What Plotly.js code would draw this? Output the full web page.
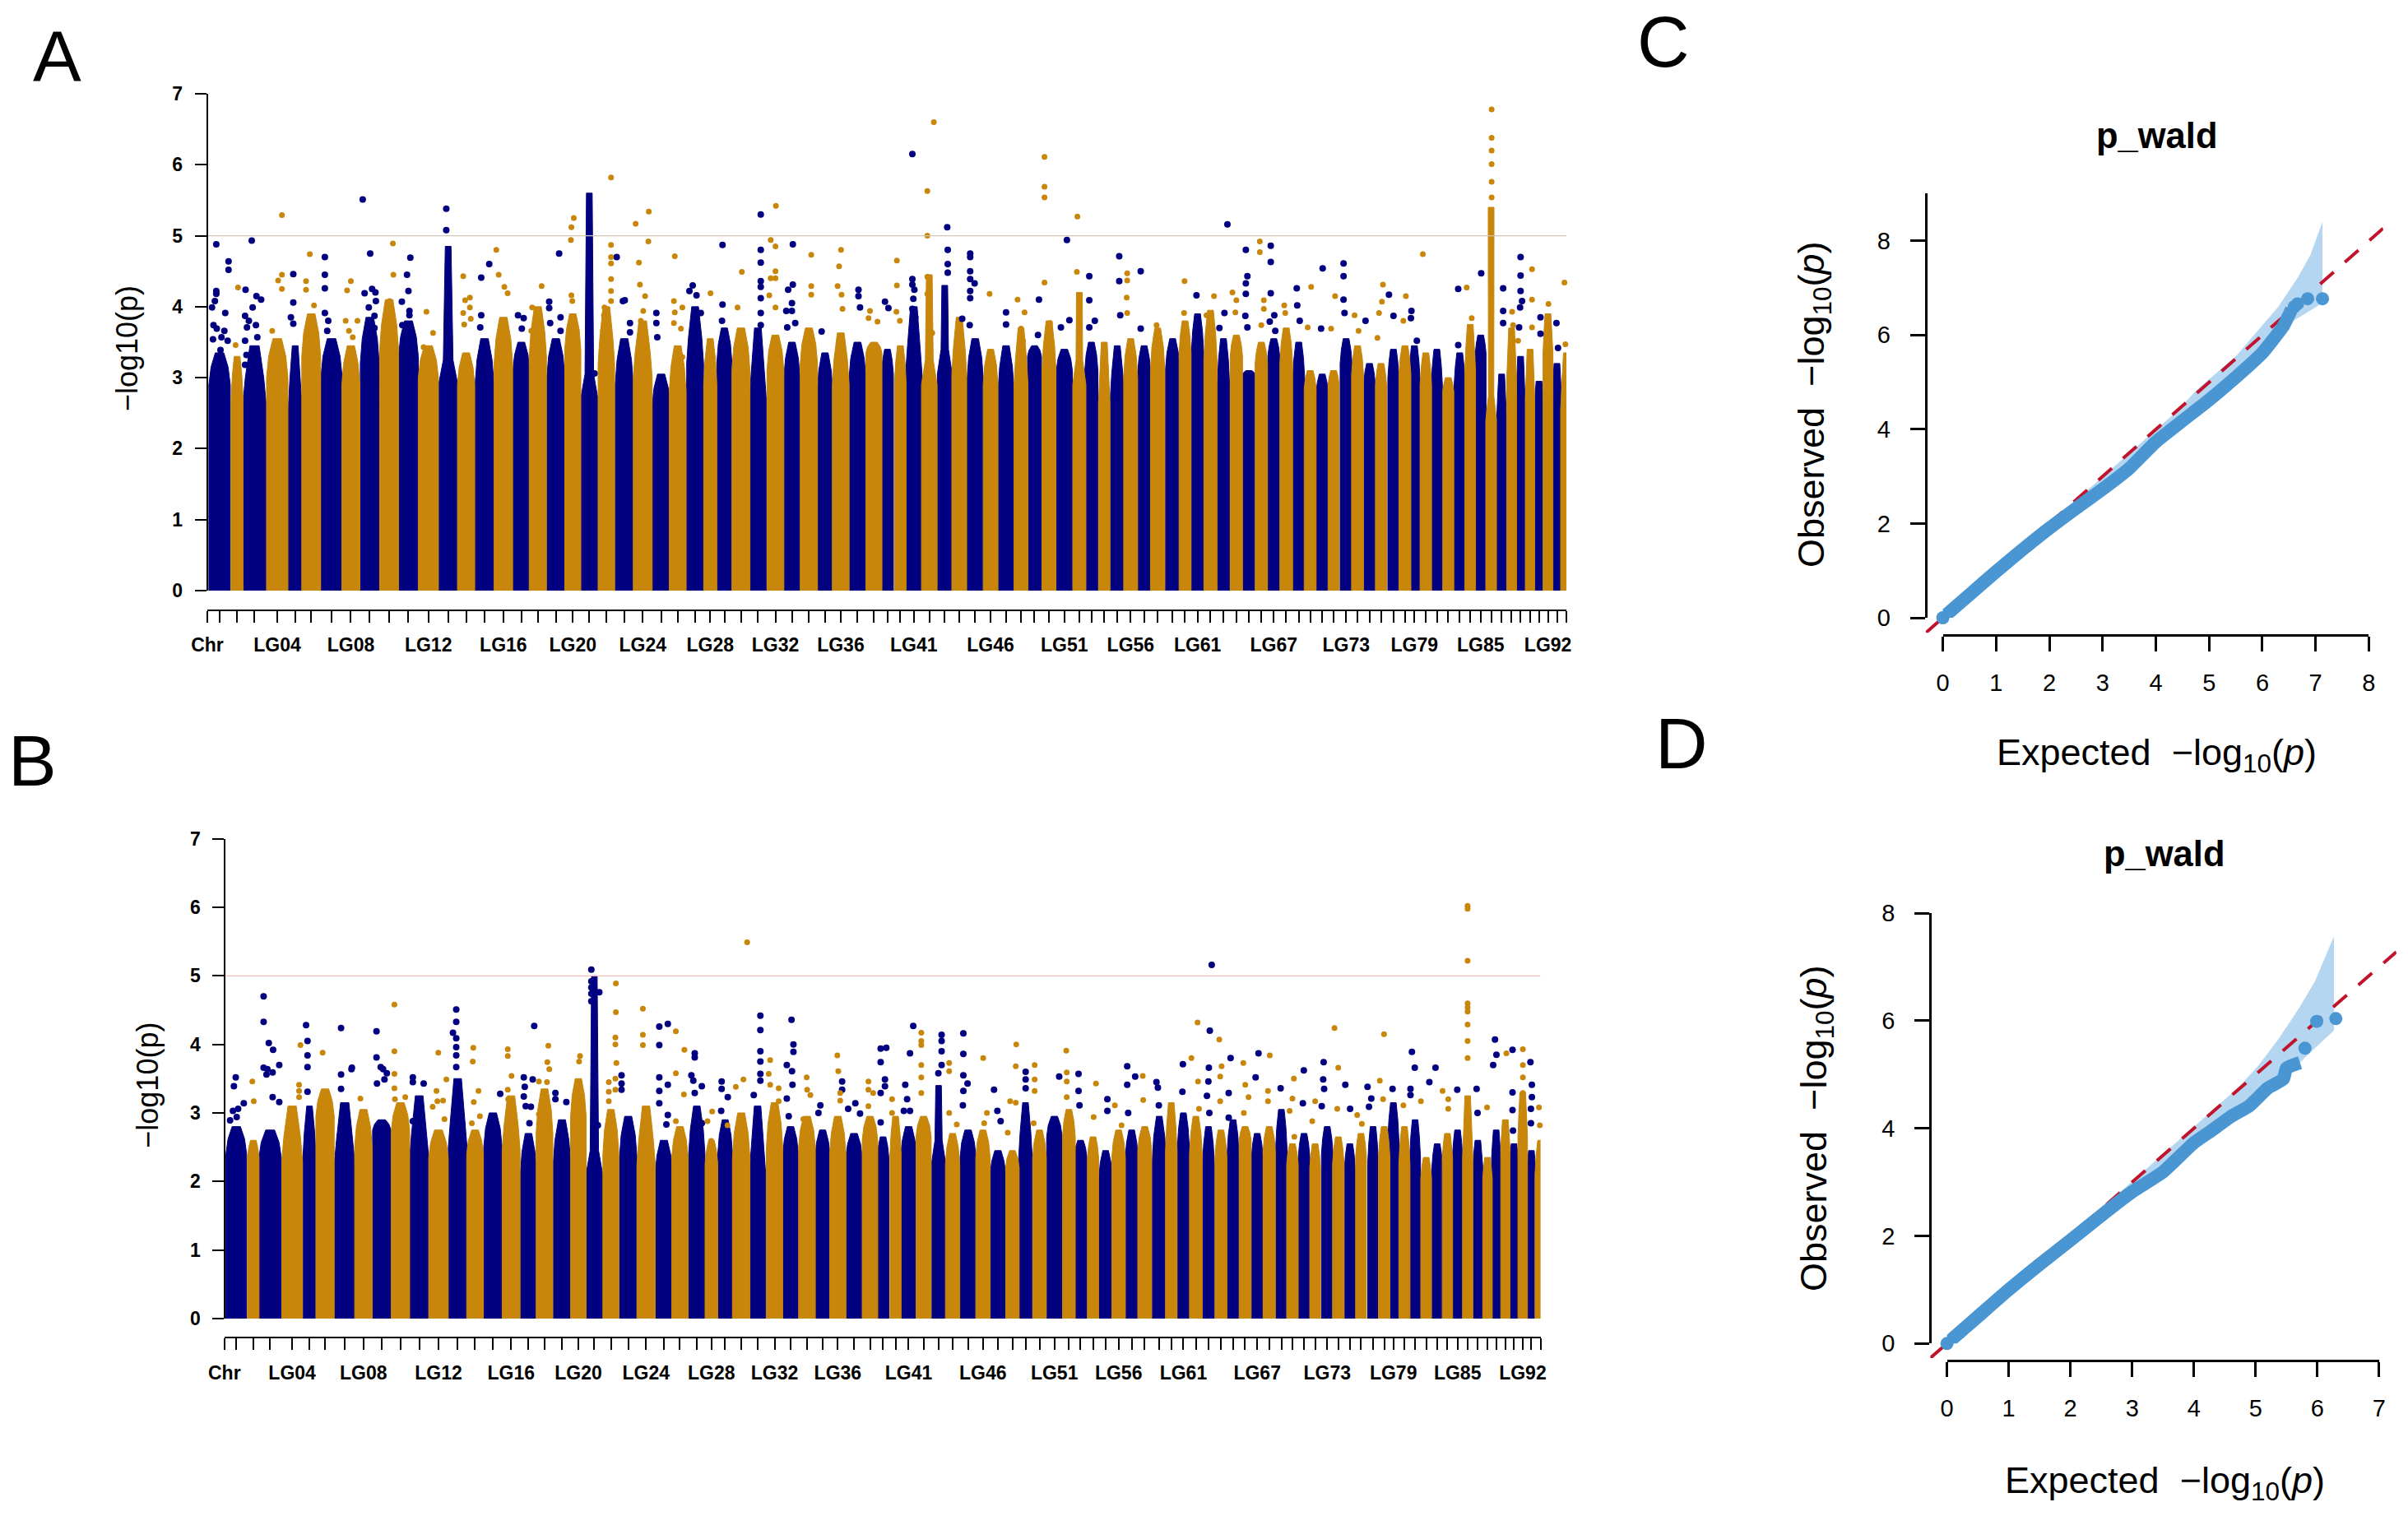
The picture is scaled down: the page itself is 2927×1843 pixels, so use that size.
<!DOCTYPE html>
<html>
<head>
<meta charset="utf-8">
<script src="https://cdn.plot.ly/plotly-3.0.1.min.js"></script>
<style>html,body{margin:0;padding:0;background:#fff}</style>
</head>
<body>
<div id="chart"></div>
<script>
// chromosome axis, shared by the two manhattan panels (index 0 is the "Chr" tick)
var tickPos = [0,14.9,36.2,57.4,85,106.8,126.3,151,174.5,197.5,221,244.5,268.7,292.8,314.6,337,359.9,381.7,401.8,423.7,444.3,464.4,485.1,506.9,529.3,551.7,571.8,593,611.4,628.6,648.7,669.3,690.6,710.7,731.3,750.9,770,790.4,810.4,826.8,842.5,858.9,877.7,896.5,914.1,933.5,952.2,971,989.2,1005.6,1023.2,1041.9,1060.1,1074.7,1090.4,1106.2,1122.5,1138.9,1155.3,1173.5,1188.6,1203.8,1219.5,1235.3,1251,1266.2,1281.3,1296.5,1311.6,1326.8,1340.7,1355.3,1369.2,1384.4,1398.3,1412.8,1426.8,1441.9,1455.9,1467.4,1481.3,1494.7,1508.6,1522.5,1535.3,1548,1560.7,1573.5,1585.6,1596.5,1608,1618.9,1629.8,1640.7,1652.2];
var chrWidth = [0,26,14.5,28,26,16.5,23,26,22,23,23,24,24.5,23.5,21,23,22.5,20.5,21,22,19.5,21,20,22,23,22,20.5,20.5,16,18.5,22,20.5,20.5,19.5,21,19,20.5,20.5,19.5,14.5,14,20,19,18,18,20,18,19.5,17,17,17,19.5,16,16,14,17,17,16,17.5,17.5,14.5,15,16,15,15,15,15,14.5,15.5,14.5,14.5,14.5,13.5,14.5,14.5,13.5,13.5,13.5,14.5,14,14,13.5,13.5,13.5,13,13,13,12.5,12,11.5,11.5,11.5,12,12,14];
var labelIdx = [0,4,8,12,16,20,24,28,32,36,41,46,51,56,61,67,73,79,85,92];
var labelTxt = ["Chr","LG04","LG08","LG12","LG16","LG20","LG24","LG28","LG32","LG36","LG41","LG46","LG51","LG56","LG61","LG67","LG73","LG79","LG85","LG92"];

// panel A: height of the full width column, height of the top of the column, per chromosome
var aShoulder = [0,2.9,2.7,2.65,3,2.6,3.3,3,2.9,3.2,3.4,3.3,3,2.9,2.9,2.9,3.2,3.1,3.3,3,3.4,2.7,3.2,2.9,3,2.6,2.8,3.2,2.9,3.2,3.1,2.7,3.1,3,3.2,2.8,2.9,3,3.35,3.05,2.95,3.05,2.9,3.05,3.05,2.95,2.9,2.8,2.9,3.3,3.1,3.1,2.9,3.1,2.65,2.7,3,3.05,3.1,3.1,3.35,3.35,3.25,2.9,3.3,3.05,3.2,3.3,3.2,3,2.85,2.8,2.9,3.2,3.05,2.95,2.9,3,3.05,2.95,2.9,2.9,2.8,2.9,3.1,3.35,2.4,2.35,2.95,2.6,2.7,2.55,3.35,2.6,2.55];
var aTop = [0,3.35,3.3,3.45,3.55,3.45,3.9,3.55,3.45,3.85,4.1,3.8,3.45,4.85,3.35,3.55,3.85,3.5,4,3.55,3.9,5.6,4,3.55,3.8,3.05,3.45,4,3.55,3.7,3.7,3.7,3.6,3.5,3.7,3.35,3.63,3.5,3.5,3.4,3.45,4,4.45,4.3,3.85,3.55,3.4,3.45,3.7,3.45,3.8,3.4,4.2,3.5,3.5,3.45,3.55,3.45,3.7,3.55,3.8,3.9,3.95,3.55,3.6,3.1,3.5,3.55,3.7,3.5,3.1,3.05,3.1,3.55,3.45,3.2,3.2,3.4,3.45,3.45,3.35,3.4,3,3.35,3.75,3.6,5.4,3.05,3.7,3.3,3.4,2.95,3.9,3.2,3.35];
// panel B: the same two heights
var bShoulder = [0,2.4,2.35,2.35,2.3,2.35,2.95,2.25,2.5,2.75,2.75,2.35,2.35,2.5,2.4,2.5,2.45,2.1,2.7,2.25,2.95,2.1,2.4,2.35,2.25,2.1,2.35,2.4,2.25,2.4,2.35,2.1,2.5,2.4,2.5,2.35,2.4,2.35,2.6,2.35,2.4,2.35,2.65,2.25,2.25,2.35,2.35,2.1,2.2,2.35,2.35,2.65,2.65,2.35,2.35,2.05,2.35,2.35,2.45,2.3,2.45,2.5,2.4,2.25,2.35,2.4,2.6,2.35,2.45,2.45,2.25,2.35,2.2,2.4,2.25,2.2,2.35,2.25,2.35,2.6,2.25,2.35,2.05,2.2,2.35,2.35,2.35,2.2,2.05,2.35,2.5,2.25,2.65,2.1,2.1];
var bTop = [0,2.8,2.6,2.75,3.1,3.1,3.35,3.15,3.05,2.9,3.15,3.25,2.75,3.5,2.75,3,3.25,2.7,3.35,2.9,3.5,5,3.05,2.95,3.1,2.6,2.8,3.1,2.6,2.9,3,3.1,3.15,2.8,2.95,2.75,2.95,2.7,2.95,2.65,2.95,2.8,2.95,3.4,2.7,2.75,2.75,2.45,2.45,3.15,2.75,2.95,3.05,2.6,2.65,2.45,2.75,2.75,2.8,2.95,3.15,3,2.95,2.8,2.75,2.9,2.8,2.7,2.8,3.05,2.55,2.7,2.55,2.8,2.65,2.55,2.7,2.8,2.8,3.15,2.8,2.9,2.35,2.55,2.7,2.75,3.25,2.6,2.35,2.75,2.9,2.55,3.3,2.45,2.6];

// panel A separate points
var aNavyX = [10.9,10.9,10.9,9.2,5.7,25.8,25.8,7.5,11.5,6.9,16,21.8,20.7,17.2,24.7,54,46.5,59.7,65.4,55.1,45.9,50.5,48.2,45.9,47.6,45.9,59.1,60.8,104.5,104.5,101.6,104.5,142.9,142.9,142.9,142.9,145.8,147,188.9,198,200.3,191.2,204.4,204.9,196.3,203.2,197.5,203.2,246.8,242.8,244.5,236.5,245.7,245.7,237.1,290.5,290.5,342.7,333,333,331.8,377.7,384.6,382.3,427.7,415.6,415.6,429.4,416.8,429.4,497.7,505.2,507.5,513.8,513.8,470.7,545.9,545.9,547,590.1,586.1,594.7,599.9,626.3,626.3,625.7,672.8,672.8,672.8,672.8,672.8,672.8,672.8,672.8,711.8,711.8,706.1,710.7,710.7,703.8,705,714.7,746.8,791.6,791.6,793.5,823.8,828,857.1,857.1,857.1,859.5,858.3,857.1,860.7,858.9,899.5,900.1,900.1,900.1,927.4,927.4,927.4,927.4,932.8,927.4,927.4,917.7,926.8,971,971,1011,1009.8,1045,1048,1037.7,1072.2,1072.2,1078.9,1072.2,1108.6,1108.6,1134.7,1109.8,1134.7,1202.5,1240.1,1262.5,1264.4,1262.5,1262.5,1261.9,1264.4,1236.5,1230.4,1292.8,1292.8,1292.8,1297.1,1291.6,1298.3,1324.4,1325,1328,1355.9,1354,1381.3,1381.3,1381.3,1382.5,1408,1436.5,1442,1463.8,1463.2,1470.4,1520.7,1520.7,1548.6,1575.3,1575.3,1575.3,1596.5,1596.5,1596.5,1598.3,1594.7,1595.9,1620.7,1640.1,1620.7,1642];
var aNavyY = [4.88,4.22,4.18,4.08,3.99,4.64,4.52,3.74,3.69,3.54,3.39,3.91,3.66,3.57,3.52,4.93,4.24,4.15,4.1,3.99,3.87,3.8,3.71,3.52,3.32,3.18,3.74,3.57,4.46,4.06,3.85,3.76,4.7,4.45,4.26,3.91,3.66,3.8,5.51,4.75,4.25,4.19,4.2,4.08,3.99,3.87,3.77,3.7,4.69,4.45,4.22,4.07,3.94,3.88,3.74,5.38,5.08,4.6,4.41,3.88,3.71,3.88,3.84,3.69,4.75,4.07,3.98,3.85,3.77,3.66,4.7,4.08,4.09,3.77,3.64,3.06,3.91,3.77,3.57,4.3,4.22,4.16,3.91,4.87,4.03,3.8,5.3,4.8,4.62,4.36,4.28,4.12,3.91,3.74,4.88,4.31,4.24,4.05,3.94,3.94,3.71,3.77,3.65,4.24,4.15,3.99,4.07,3.98,6.15,4.39,4.31,4.24,4.11,3.97,3.85,3.69,5.12,4.8,4.6,4.48,4.75,4.7,4.5,4.39,4.33,4.22,4.12,3.83,3.74,3.92,3.75,4.1,3.6,4.94,3.81,3.71,4.43,4.09,3.8,3.71,4.71,4.36,4.5,3.88,3.69,4.16,5.16,4.8,4.43,4.33,4.18,3.87,3.71,3.91,3.7,4.86,4.63,4.19,3.88,3.79,3.66,4.26,4.02,3.8,4.54,3.69,4.61,4.43,4.1,3.91,3.8,4.17,3.87,3.94,3.84,3.52,4.25,3.46,4.47,4.26,3.94,3.77,4.7,4.44,4.22,4.08,3.71,3.99,3.85,3.77,3.62,3.42];
var aGoldX = [90.7,90.7,86.1,90.7,78.9,37.3,34.4,124.6,120,120,129.7,174.5,169.9,168.2,182.5,172.2,176.8,225.6,226.2,221.6,222.7,266.4,274.4,262.9,268.7,311.1,319.2,313.4,319.2,311.1,320.3,312.3,351.3,354.2,361.1,365.1,406.4,394.9,393.8,445.5,442.6,442,442.6,443.7,490.8,490.8,490.8,490.8,490.8,490.8,490.8,482.8,482.2,481,536.7,520.7,536.2,524.7,525.9,532.2,529.9,527,568.3,567.2,577.5,568.3,567.2,575.8,577.5,611.7,649.8,644.6,691.2,684.9,690.7,690.7,684.9,690.7,683.2,690.7,734.2,734.2,734.2,770.4,768,766.2,771,772.2,805.6,803.8,814.7,838.3,838.3,837.7,841.9,883.2,875.3,875.3,875.3,875.3,881.3,951,985,993.5,989.2,991.6,1017.7,1017.7,1017.7,1017.7,1024.4,1057.7,1057.1,1118.3,1118.3,1117.7,1118.3,1154,1188,1187.4,1223.8,1214.7,1246.2,1251,1249.8,1279.5,1279.5,1284.4,1284.4,1281.3,1309.2,1310.4,1337.7,1341.9,1366.2,1371,1394.7,1399.5,1429.2,1428,1424.4,1422.5,1457.1,1454,1477.7,1531,1537.1,1561.3,1561.3,1561.3,1561.3,1561.3,1561.3,1586.2,1587.4,1610.4,1610.4,1610.4,1593.5,1630.4,1630.4,1649.8,1651];
var aGoldY = [5.29,4.45,4.37,4.25,3.66,4.27,3.46,4.74,4.36,4.24,4.02,4.36,4.23,3.8,3.8,3.66,3.57,4.89,4.45,4.08,3.85,3.93,3.63,3.43,3.35,4.43,4.13,4.09,3.99,3.91,3.83,3.75,4.8,4.45,4.28,4.19,4.29,3.99,3.66,5.25,5.12,4.94,4.16,4.08,5.82,4.87,4.7,4.61,4.39,4.22,4.08,3.99,3.88,3.66,5.34,5.17,4.92,4.62,4.31,4.15,3.94,3.8,4.71,4.08,3.99,3.92,3.77,3.69,3.29,4.19,4.49,3.99,5.42,4.94,4.85,4.5,4.4,4.4,4.16,3.99,4.73,4.29,4.17,4.8,4.57,4.29,4.17,3.97,3.94,3.84,3.79,4.65,4.3,3.93,3.8,6.6,5.63,5,4.42,4.18,3.63,4.18,4.1,3.92,3.69,3.52,6.11,5.69,5.54,4.34,3.77,5.27,4.49,4.47,4.37,4.13,3.91,3.74,4.36,3.91,4.15,3.88,4.2,4.09,3.92,4.92,4.77,4.09,3.97,3.74,4.02,3.91,3.71,4.28,3.69,4.15,3.88,3.66,4.31,4.07,3.91,3.56,4.15,3.8,4.74,4.27,3.84,6.78,6.38,6.2,6.01,5.76,5.54,3.93,3.74,4.53,4.1,3.71,3.52,4.04,3.8,4.34,3.47];

// panel B separate points
var bNavyX = [49.2,49.2,55.7,61.1,49.2,53.9,52.8,60.5,68.8,60.5,68.8,14.2,11.9,10.7,17.2,24.3,15.4,7.1,102.5,104.3,104.3,104.3,104.3,146.4,146.4,146.4,160,159.5,190.9,190.9,196.2,199.2,203.9,191.5,200.9,236.5,236.5,250.1,236.5,291,291,286.9,291,291,291,291,298.8,346.2,388.9,375.8,387,377,375.8,378.2,384.7,382.9,415.5,429.2,415.5,429.2,460.6,460.6,460.6,460.6,460.6,470.6,468.8,498.5,498.5,498.5,545.9,556.6,545.9,545.9,545.9,556.6,545.9,556.6,554.8,590.4,590.4,586.2,588.6,599.3,590.4,599.3,624.2,624.2,631.9,623.6,672.8,672.8,672.8,672.8,672.8,672.8,664.5,711.9,714.3,714.3,706,712.5,713.1,706,708.4,748.1,745.7,775.4,775.4,792,783,797.9,823.8,830.9,823.8,829.2,829.2,823.8,823.8,864.7,860.6,854.7,857,860.6,852.9,900.3,900.3,900.3,900.3,896.2,927.6,927.6,927.6,932.9,927.6,927,966.1,970.3,974.4,1005.8,1005.8,1005.8,1047.9,1072.2,1072.2,1073.4,1108.4,1108.4,1133.3,1143.3,1133.3,1134.5,1170,1171.8,1173,1203.2,1202.6,1239.4,1237,1235.8,1235.2,1233.4,1236.4,1263.1,1260.7,1260.7,1298.1,1294.5,1325.9,1355,1353.8,1379.9,1379.3,1380.5,1377.5,1407.1,1413.1,1435,1439.7,1436.8,1466.4,1488.9,1490.7,1494.3,1488.9,1512.6,1520.3,1547.6,1571.9,1573.1,1595,1596.8,1592.7,1617,1617,1617,1617.6,1639.5,1641.3,1641.3,1640.1,1640.1];
var bNavyY = [4.7,4.33,4.02,3.92,3.66,3.64,3.56,3.59,3.7,3.23,3.16,3.52,3.39,3.03,3.06,3.14,2.94,2.89,4.28,4.05,3.84,3.67,3.31,4.24,3.56,3.35,3.66,3.64,4.19,3.81,3.67,3.64,3.58,3.43,3.49,3.52,3.45,3.43,2.88,4.51,4.33,4.17,4.09,3.96,3.84,3.67,2.83,3.28,4.27,3.52,3.49,3.38,3.24,3.1,3.09,2.85,3.29,3.16,3.2,2.44,5.09,4.92,4.83,4.74,4.63,4.76,2.82,3.55,3.43,3.34,4.26,4.3,3.99,3.52,3.32,3.41,3.14,2.97,2.83,3.87,3.81,3.55,3.47,3.39,3.29,2.85,3.46,3.35,3.23,3.03,4.42,4.21,3.9,3.75,3.57,3.47,3.26,4.36,4,3.89,3.7,3.61,3.41,3.21,2.95,3.11,3,3.46,3.34,3.14,3.06,2.99,3.94,3.95,3.74,3.49,3.39,3.29,2.86,4.27,3.87,3.41,3.2,3.03,3.03,4.14,4.05,3.9,3.7,3.58,4.16,3.86,3.55,3.43,3.32,3.11,3.34,3.03,2.88,3.6,3.49,3.36,3.53,3.57,3.32,3.11,3.2,3.03,3.68,3.53,3.41,3,3.45,3.37,3.11,3.71,3.31,5.16,4.2,3.66,3.46,3.25,3,3.8,3.29,2.93,3.87,3.52,3.36,3.62,3.14,3.74,3.49,3.35,3.1,3.41,3.06,3.38,3.21,3.09,3.35,3.35,3.89,3.66,3.26,3.45,3.66,3.34,3.35,3,4.07,3.85,3.7,3.92,3.3,3.04,2.74,3.74,3.41,3.23,3.06,2.85];
var bGoldX = [35,36.8,95.4,93.7,93.7,93.7,123.3,213.4,213.4,213.4,213.4,170.7,214,227,268.5,266.2,278.6,267.3,274.5,261.4,276.2,312.4,311.8,318.9,313,320.7,310.6,355.7,355.7,360.4,355.7,356.3,356.3,406.6,405.4,407.8,394.8,404.9,394.8,394.8,446.4,445.2,491.4,491.4,490.8,490.8,492,490.8,482.5,490.8,482.5,482.5,525.3,525.3,525.3,566.7,577.4,566.7,576.8,566.7,656.2,651.5,642,612.3,606.4,631.5,611,685.1,683.3,685.1,695.8,695.8,730.9,731.5,735.6,726.7,769.4,770.6,773,773,808.4,808.4,814.4,808.4,838.1,838.1,874.8,874.8,874.8,874.8,874.8,874.8,909.8,909.8,909.8,919.3,952.5,957.2,953.7,994,993.4,986.3,993.4,983.3,1017.1,1017.1,1017.1,1015.9,1056.8,1057.4,1057.4,1057.4,1094.1,1091.2,1117.8,1126.2,1152.8,1153.4,1213.9,1221.6,1222.2,1223.4,1248.9,1251.8,1250,1250,1279.1,1281.5,1285.6,1279.7,1312.3,1310,1310,1342.5,1340.7,1337.2,1343.1,1369.2,1365.6,1393.5,1398.2,1397,1422,1427.9,1455.7,1450.4,1454.5,1480,1502,1529.2,1536.3,1536.3,1560.6,1560.6,1560.6,1560.6,1560.6,1560.6,1560.6,1560.6,1560.6,1585,1609.3,1630,1630,1630,1630,1650.2,1651.3];
var bGoldY = [3.46,3.17,3.99,3.41,3.32,3.23,3.88,4.58,3.9,3.57,3.36,3.21,3.2,3.23,3.88,3.32,3.49,3.17,3.18,3.09,2.91,3.95,3.75,3.32,3.16,2.95,2.85,3.93,3.83,3.54,3.34,3.2,3,3.98,3.74,3.64,3.46,3.45,2.98,2.84,3.83,3.75,4.89,4.47,4.1,4,3.73,3.5,3.45,3.34,3.31,3.17,4.52,4.14,3.99,4.19,3.92,3.58,3.27,2.88,5.49,3.49,3.38,3.02,2.88,2.82,2.59,3.77,3.57,3.41,3.36,3.17,3.52,3.34,3.26,2.91,3.84,3.61,3.29,3.18,3.46,3.34,3.29,3.1,3.2,3,4.17,4.05,3.99,3.7,3.52,3.29,3.73,3.61,3,2.83,3.8,3,2.85,4,3.68,3.17,3.15,2.71,3.7,3.49,3.32,2.85,3.91,3.59,3.46,3.23,3.43,2.94,3.11,2.82,3.54,3.19,3.8,4.32,3.46,3.06,4.07,3.68,3.53,3.17,3.73,3.41,3.23,3,3.84,3.32,3.17,3.5,3.21,3.03,2.65,3.17,2.88,4.24,3.66,3.06,2.97,2.84,4.15,3.47,3.2,3.11,3.17,3.32,3.06,3.2,6.02,5.98,5.22,4.6,4.54,4.48,4.29,4.05,3.8,3.08,3.87,3.93,3.7,3.52,3.29,3.08,2.82];

// QQ panel C
var cExpected = [0,0.5,1,1.5,2,2.5,3,3.5,4,4.5,5,5.5,6,6.2,6.4,6.55];
var cObserved = [0,0.49,0.98,1.45,1.9,2.32,2.73,3.17,3.73,4.18,4.62,5.1,5.62,5.9,6.2,6.55];
var cLastX = [0,6.6,6.66,6.85,7.13];
var cLastY = [0,6.6,6.66,6.77,6.77];
var cBandX = [2,4.38,4.76,5.14,5.52,5.9,6.29,6.67,6.9,7.13,7.13,6.59,6.29,5.9,5.52,5.14,4.76,4.38,2];
var cBandY = [2,4.37,4.83,5.2,5.57,6.08,6.59,7.23,7.7,8.41,6.68,6.31,6.03,5.57,5.1,4.74,4.37,3.98,2];
var cDiagX = [-0.32,8.27];
// QQ panel D
var dExpected = [0,0.5,1,1.5,2,2.5,3,3.5,4,4.3,4.6,4.9,5.2,5.45,5.5,5.72];
var dObserved = [0,0.5,1,1.47,1.92,2.38,2.82,3.19,3.73,3.97,4.22,4.42,4.75,4.92,5.12,5.22];
var dLastX = [0,5.8,5.99,6.3];
var dLastY = [0,5.49,5.99,6.04];
var dBandX = [2,4.38,4.71,5.04,5.37,5.7,5.96,6.27,6.27,5.96,5.7,5.37,5.04,4.71,4.38,2];
var dBandY = [2,4.42,4.75,5.16,5.66,6.23,6.73,7.57,5.82,5.49,5.2,4.84,4.51,4.18,3.93,2];
var dDiagX = [-0.27,7.28];

var W = 2927, H = 1843;
var navy = "#000080", gold = "#C8860B", blue = "#4A96D2", band = "#B5D6F0", red = "#C0142C";
var ink = "#000", sans = "Liberation Sans, Arial, sans-serif";

function fx(px) { return px / W; }
function fy(px) { return 1 - px / H; }

// outline of all columns of one colour, gaps between them keep the polygons apart
function columns(shoulder, top, odd) {
  var xs = [], ys = [];
  for (var i = 1; i < tickPos.length; i++) {
    if ((i % 2 === 1) !== odd) continue;
    var c = tickPos[i], w = chrWidth[i] / 2, d = top[i] - shoulder[i];
    var neck = shoulder[i] + Math.min(0.55 * d, 0.35);
    var nw = d > 1 ? w * 0.5 : w * 0.8, tw = d > 1 ? 3.5 : Math.max(3.5, w * 0.4);
    xs.push(c - w, c - w, c - nw, c - tw, c + tw, c + nw, c + w, c + w, c - w, null);
    ys.push(-0.04, shoulder[i], neck, top[i], top[i], neck, shoulder[i], -0.04, -0.04, null);
  }
  return {x: xs, y: ys};
}

function manhattan(xa, ya, shoulder, top, nx, ny, gx, gy, lineColor) {
  var n = columns(shoulder, top, true), g = columns(shoulder, top, false);
  var base = {xaxis: xa, yaxis: ya, cliponaxis: false, hoverinfo: "skip", showlegend: false};
  function solid(d, col) {
    return Object.assign({}, base, {x: d.x, y: d.y, mode: "lines", fill: "toself", fillcolor: col, line: {color: col, width: 1}});
  }
  function dots(x, y, col, size) {
    return Object.assign({}, base, {x: x, y: y, mode: "markers", marker: {color: col, size: size}});
  }
  return [
    solid(n, navy), solid(g, gold),
    dots(nx, ny, navy, 8), dots(gx, gy, gold, 7),
    Object.assign({}, base, {x: [0, tickPos[tickPos.length - 1]], y: [5, 5], mode: "lines", line: {color: lineColor, width: 1.2}})
  ];
}

// band and diagonal go on a wider hidden subplot: plotly stops dashed lines at the axis range
function qq(xw, yw, xa, ya, ex, ob, lx, ly, bx, by, dx, dash) {
  var under = {xaxis: xw, yaxis: yw, cliponaxis: false, hoverinfo: "skip", showlegend: false};
  var over = {xaxis: xa, yaxis: ya, cliponaxis: false, hoverinfo: "skip", showlegend: false};
  return [
    Object.assign({}, under, {x: bx, y: by, mode: "lines", fill: "toself", fillcolor: band, line: {color: band, width: 0}}),
    Object.assign({}, under, {x: dx, y: dx, mode: "lines", line: {color: red, width: 4, dash: dash}}),
    Object.assign({}, over, {x: ex, y: ob, mode: "lines", line: {color: blue, width: 16, shape: "spline", smoothing: 0.5}}),
    Object.assign({}, over, {x: lx, y: ly, mode: "markers", marker: {color: blue, size: 16}})
  ];
}

var data = []
  .concat(manhattan("x", "y", aShoulder, aTop, aNavyX, aNavyY, aGoldX, aGoldY, "#D2C6B8"))
  .concat(manhattan("x2", "y2", bShoulder, bTop, bNavyX, bNavyY, bGoldX, bGoldY, "#F5BDBD"))
  .concat(qq("x3", "y3", "x4", "y4", cExpected, cObserved, cLastX, cLastY, cBandX, cBandY, cDiagX, "22px,18px"))
  .concat(qq("x5", "y5", "x6", "y6", dExpected, dObserved, dLastX, dLastY, dBandX, dBandY, dDiagX, "22px,18.6px"));

var tickText = tickPos.map(function (p, i) {
  var k = labelIdx.indexOf(i);
  return k < 0 ? "" : labelTxt[k];
});

function chrAxis(x0, x1, ypx) {
  return {domain: [fx(x0), fx(x1)], range: [0, tickPos[tickPos.length - 1]], anchor: "free", position: fy(ypx),
    showgrid: false, zeroline: false, showline: true, linecolor: ink, linewidth: 2,
    ticks: "outside", ticklen: 14, tickwidth: 2, tickcolor: ink, tickmode: "array", tickvals: tickPos, ticktext: tickText,
    tickangle: 0, ticklabelstandoff: 8, tickfont: {family: sans, size: 23, color: ink, weight: 700}};
}
function logAxis(y0, y1, xpx) {
  return {domain: [fy(y1), fy(y0)], range: [0, 7], anchor: "free", position: fx(xpx),
    showgrid: false, zeroline: false, showline: true, linecolor: ink, linewidth: 2,
    ticks: "outside", ticklen: 14, tickwidth: 2, tickcolor: ink, tickmode: "array", tickvals: [0,1,2,3,4,5,6,7],
    ticklabelstandoff: 10, tickfont: {family: sans, size: 23, color: ink, weight: 700}};
}
function qqAxisX(x0, x1, ypx, top) {
  var v = []; for (var i = 0; i <= top; i++) v.push(i);
  return {domain: [fx(x0), fx(x1)], range: [0, top], anchor: "free", position: fy(ypx),
    showgrid: false, zeroline: false, showline: true, linecolor: ink, linewidth: 3,
    ticks: "outside", ticklen: 18, tickwidth: 3, tickcolor: ink, tickmode: "array", tickvals: v,
    tickangle: 0, ticklabelstandoff: 13, tickfont: {family: sans, size: 29, color: ink}};
}
function qqAxisY(y0, y1, xpx, top) {
  return {domain: [fy(y1), fy(y0)], range: [0, top], anchor: "free", position: fx(xpx),
    showgrid: false, zeroline: false, showline: true, linecolor: ink, linewidth: 3,
    ticks: "outside", ticklen: 18, tickwidth: 3, tickcolor: ink, tickmode: "array", tickvals: [0,2,4,6,8],
    ticklabelstandoff: 18, tickangle: 0, tickfont: {family: sans, size: 29, color: ink}};
}
// hidden twin of a qq axis: same scale, longer range
function wideX(x0, perUnit, lo, hi) {
  return {visible: false, domain: [fx(x0 + lo * perUnit), fx(x0 + hi * perUnit)], range: [lo, hi]};
}
function wideY(y0, perUnit, lo, hi) {
  return {visible: false, domain: [fy(y0 - lo * perUnit), fy(y0 - hi * perUnit)], range: [lo, hi]};
}

function note(text, xpx, ypx, size, opts) {
  return Object.assign({text: text, xref: "paper", yref: "paper", x: fx(xpx), y: fy(ypx), xanchor: "center", yanchor: "middle",
    showarrow: false, font: {family: sans, size: size, color: ink}}, opts || {});
}
var expectedTxt = "Expected\u00A0\u00A0\u2212log<sub>10</sub>(<i>p</i>)";
var observedTxt = "Observed\u00A0\u00A0\u2212log<sub>10</sub>(<i>p</i>)";

var layout = {
  width: W, height: H, margin: {l: 0, r: 0, t: 0, b: 0}, paper_bgcolor: "#fff", plot_bgcolor: "rgba(0,0,0,0)", showlegend: false,
  xaxis: chrAxis(252, 1904, 741.5),
  yaxis: logAxis(114, 718, 251.7),
  xaxis2: chrAxis(272.8, 1872.6, 1626),
  yaxis2: logAxis(1019.7, 1602.9, 273.4),
  xaxis3: wideX(2361.6, 64.725, -0.32, 8.27),
  yaxis3: wideY(751, 57.25, -0.32, 9),
  xaxis4: qqAxisX(2361.6, 2879.4, 772, 8),
  yaxis4: qqAxisY(235.4, 751, 2340.8, 9),
  xaxis5: wideX(2366.6, 75.03, -0.27, 7.28),
  yaxis5: wideY(1633.3, 65.39, -0.27, 8),
  xaxis6: qqAxisX(2366.6, 2891.8, 1654.3, 7),
  yaxis6: qqAxisY(1110.2, 1633.3, 2346.2, 8),
  annotations: [
    note("A", 69, 68, 88), note("B", 39, 924, 88), note("C", 2022, 50, 88), note("D", 2044, 903, 88),
    note("\u2212log10(p)", 154, 424, 36, {textangle: -90}),
    note("\u2212log10(p)", 178.7, 1319, 36, {textangle: -90}),
    note("<b>p_wald</b>", 2621, 165, 43.5),
    note("<b>p_wald</b>", 2630, 1038, 43.5),
    note(expectedTxt, 2621, 917, 45),
    note(expectedTxt, 2631, 1802, 45),
    note(observedTxt, 2204, 492, 45, {textangle: -90}),
    note(observedTxt, 2207, 1372, 45, {textangle: -90})
  ]
};

Plotly.newPlot("chart", data, layout, {displayModeBar: false, staticPlot: true});
</script>
</body>
</html>
